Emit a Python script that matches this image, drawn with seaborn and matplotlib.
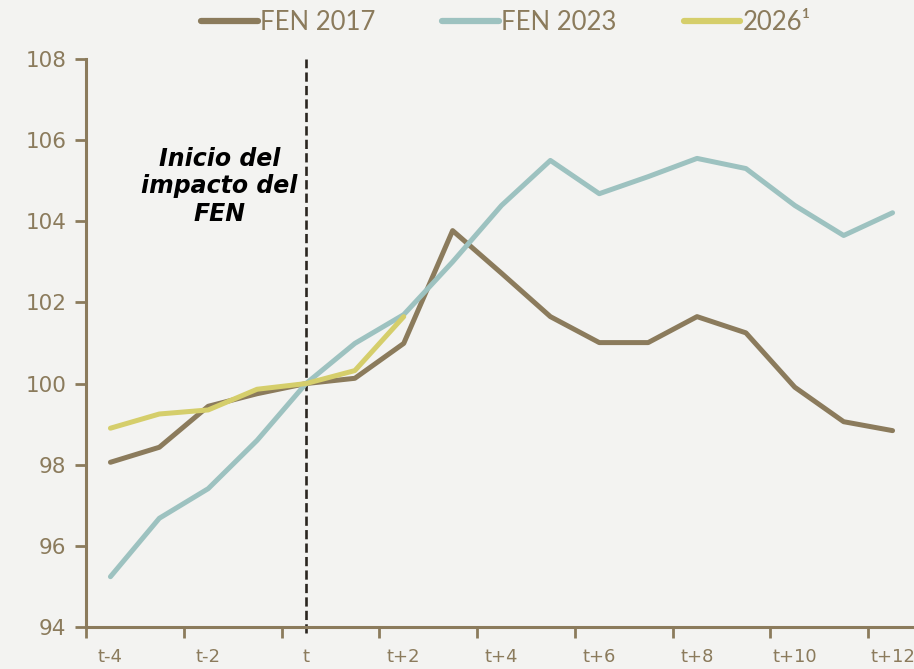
import numpy as np
import pandas as pd
import matplotlib
matplotlib.use("Agg")
import matplotlib.pyplot as plt
import seaborn as sns

# periodos relativos al inicio del FEN
periodos = ["t-4", "t-3", "t-2", "t-1", "t", "t+1", "t+2", "t+3", "t+4", "t+5",
            "t+6", "t+7", "t+8", "t+9", "t+10", "t+11", "t+12"]

fen_2017 = [98.06, 98.43, 99.44, 99.75, 100.0, 100.13, 100.99, 103.77, 102.72,
            101.65, 101.01, 101.01, 101.65, 101.25, 99.91, 99.06, 98.84]
fen_2023 = [95.24, 96.68, 97.41, 98.6, 100.0, 100.99, 101.7, 103.0, 104.39,
            105.5, 104.68, 105.1, 105.55, 105.3, 104.39, 103.65, 104.21]
y_2026 = [98.9, 99.25, 99.35, 99.86, 100.0, 100.32, 101.65]

series = ["FEN 2017", "FEN 2023", "2026¹"]
colores = ["#8b7b5c", "#9dc2c0", "#d5ce6b"]
texto_col = "#8b7b5c"

rows = []
for nombre, vals in zip(series, [fen_2017, fen_2023, y_2026]):
    for i, v in enumerate(vals):
        rows.append({"x": i, "valor": v, "serie": nombre})
df = pd.DataFrame(rows)

sns.set_theme(style="white")
plt.rcParams["font.family"] = ["DejaVu Sans"]
bg = "#f3f3f1"

fig = plt.figure(figsize=(9.14, 6.69), dpi=100, facecolor=bg)
ax = fig.add_axes([86 / 914, 42 / 669, 831 / 914, 568 / 669])
ax.set_facecolor(bg)

sns.lineplot(data=df, x="x", y="valor", hue="serie", hue_order=series,
             palette=colores, linewidth=3.6, ax=ax, legend=False,
             solid_capstyle="round", clip_on=False)

ax.axvline(4, ymin=-0.01, ymax=1, color="#2b2620", linewidth=1.9,
           linestyle=(0, (3.5, 1.6)), clip_on=False, zorder=1)

ax.text(2.23, 104.86, "Inicio del\nimpacto del\nFEN", ha="center", va="center",
        fontsize=17, fontweight="bold", fontstyle="italic", color="black",
        linespacing=1.2)

ax.set_xlim(-0.5, 16.5)
ax.set_ylim(94, 108)
ax.set_yticks(np.arange(94, 109, 2))
ax.set_xticks(np.arange(-0.5, 17, 2))
ax.set_xticklabels([])
ax.set_xticks(np.arange(0, 17, 2), periodos[::2], minor=True)
ax.tick_params(axis="x", which="major", length=8, width=2, color=texto_col,
               direction="out", bottom=True)
ax.tick_params(axis="x", which="minor", length=0, pad=15, labelsize=13,
               labelcolor=texto_col, bottom=True)
ax.tick_params(axis="y", length=8, width=2, color=texto_col, direction="out",
               left=True, labelsize=15.5, labelcolor=texto_col, pad=6)

ax.set_xlabel("")
ax.set_ylabel("")
for s in ["top", "right"]:
    ax.spines[s].set_visible(False)
for s in ["left", "bottom"]:
    ax.spines[s].set_color(texto_col)
    ax.spines[s].set_linewidth(2.2)

handles = [plt.Line2D([], [], color=c, linewidth=4.5, solid_capstyle="round")
           for c in colores]
leg = fig.legend(handles, series, loc="center", ncol=3,
                 bbox_to_anchor=(506 / 914, 1 - 22 / 669), frameon=False,
                 prop={"family": "Lato", "size": 18.5}, handlelength=2.2,
                 handletextpad=0.1, columnspacing=2.6)
for t in leg.get_texts():
    t.set_color(texto_col)

fig.savefig("out.png", dpi=100, facecolor=bg)
